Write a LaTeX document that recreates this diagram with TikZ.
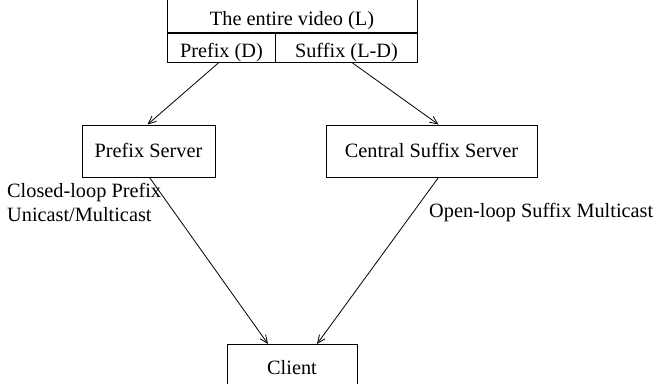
\documentclass[tikz,border=0pt]{standalone}
\usepackage{fontspec}
\setmainfont{Liberation Serif}
\usetikzlibrary{arrows.meta}

\tikzset{
  box/.style={draw, rectangle, inner sep=0pt, line width=0.9pt},
  lbl/.style={inner sep=0pt, anchor=base west, align=left},
  link/.style={line width=0.8pt, -{Straight Barb[length=8pt,width=7pt]}}
}

\begin{document}
\begin{tikzpicture}[x=1pt, y=-1pt, font=\fontsize{20.3}{24}\selectfont]
\useasboundingbox (0,0) rectangle (661,383);
\clip (0,0) rectangle (661,383);
% the video, cut in two
\node[box, anchor=south, minimum width=250pt, text height=40pt, text depth=7pt] (video) at (292,33) {The entire video (L)};
\node[box, anchor=north west, minimum width=108pt, text height=24pt, text depth=5pt] (prefix) at (167,33) {Prefix (D)};
\node[box, anchor=north west, minimum width=142pt, text height=24pt, text depth=5pt] (suffix) at (275,33) {Suffix (L-D)};
% servers
\node[box, minimum width=133pt, minimum height=52pt, text height=13.5pt, text depth=0pt] (pserver) at (148.5,151) {Prefix Server};
\node[box, minimum width=211pt, minimum height=52pt, text height=13.5pt, text depth=0pt] (cserver) at (431.5,151) {Central Suffix Server};
\node[box, anchor=north, minimum width=130pt, text height=30pt, text depth=30pt] (client) at (292,344) {Client};
% links
\draw[link] ([xshift=-3pt]prefix.south) -- ([xshift=-1pt]pserver.north);
\draw[link] ([xshift=6pt]suffix.south) -- ([xshift=7pt]cserver.north);
\draw[link] ([xshift=1pt]pserver.south) -- ([xshift=-24pt]client.north);
\draw[link] ([xshift=7pt]cserver.south) -- ([xshift=25pt]client.north);
\node[lbl] (closed) at (7,221) {Closed-loop Prefix\\Unicast/Multicast};
\node[lbl] (open) at (429,217) {Open-loop Suffix Multicast};
\end{tikzpicture}
\end{document}
